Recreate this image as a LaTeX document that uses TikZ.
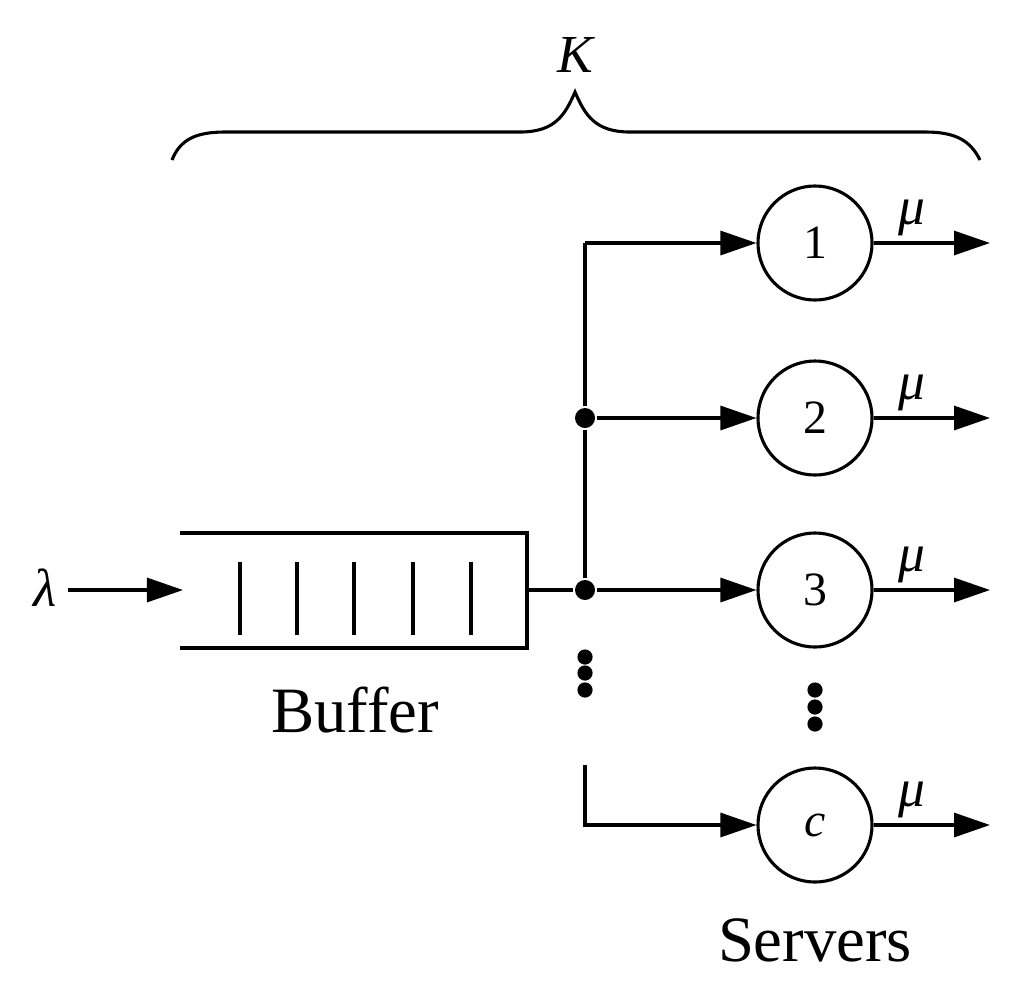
\documentclass[tikz,border=0pt]{standalone}
\usepackage{fontspec}
\setmainfont{Liberation Serif}
\usetikzlibrary{arrows.meta}
\begin{document}
\begin{tikzpicture}[x=0.025cm,y=-0.025cm,line width=2.2pt,
  arr/.style={-{Triangle[length=0.9cm,width=0.6cm]}},
  srv/.style={circle,draw,minimum size=2.85cm,inner sep=0pt,font=\fontsize{34}{34}\selectfont},
  dot/.style={circle,fill,inner sep=0pt,minimum size=0.5cm},
  sdot/.style={circle,fill,inner sep=0pt,minimum size=0.38cm},
  big/.style={font=\fontsize{46}{46}\selectfont},
  greek/.style={font=\fontsize{38}{38}\selectfont\itshape}]
\useasboundingbox (0,0) rectangle (1017,994);
% brace
\draw (172,160) .. controls (180,140) and (195,132) .. (225,132) -- (520,132)
  .. controls (555,132) and (565,115) .. (575,92)
  .. controls (585,115) and (595,132) .. (630,132) -- (925,132)
  .. controls (955,132) and (970,140) .. (980,160);
\node[greek] (K) at (575,55) {K};
% buffer
\draw (180,533) -- (527,533) -- (527,648) -- (180,648);
\foreach \x in {240,297,354,413,471} \draw (\x,562) -- (\x,635);
\node[big] (buf) at (355,710) {Buffer};
\node[greek] (lam) at (45,588) {λ};
\coordinate (lend) at (68,590);
\coordinate (bin) at (183,590);
\draw[arr] (lend) -- (bin);
% servers
\node[srv] (s1) at (815,243) {1};
\node[srv] (s2) at (815,418) {2};
\node[srv] (s3) at (815,590) {3};
\node[srv] (sc) at (815,825) {\itshape c};
\node[big] (srvl) at (815,940) {Servers};
\node[dot] (d3) at (585,590) {};
\node[dot] (d2) at (585,418) {};
\coordinate (bout) at (527,590);
\coordinate (top) at (585,243);
\coordinate (cstart) at (585,765);
\coordinate (ccorner) at (585,825);
\draw (bout) -- (d3);
\draw (d3) -- (d2) -- (top);
\draw[arr] (top) -- (s1);
\draw[arr] (d2) -- (s2);
\draw[arr] (d3) -- (s3);
\draw[arr] (cstart) -- (ccorner) -- (sc);
\foreach \y in {657,673,690} \node[sdot] at (585,\y) {};
\foreach \y in {690,707,724} \node[sdot] at (815,\y) {};
\foreach \s/\y in {s1/243,s2/418,s3/590,sc/825}{
  \coordinate (o\s) at (990,\y);
  \draw[arr] (\s) -- (o\s);
  \node[greek] at (912,\y-25) {μ};
}
\end{tikzpicture}
\end{document}
